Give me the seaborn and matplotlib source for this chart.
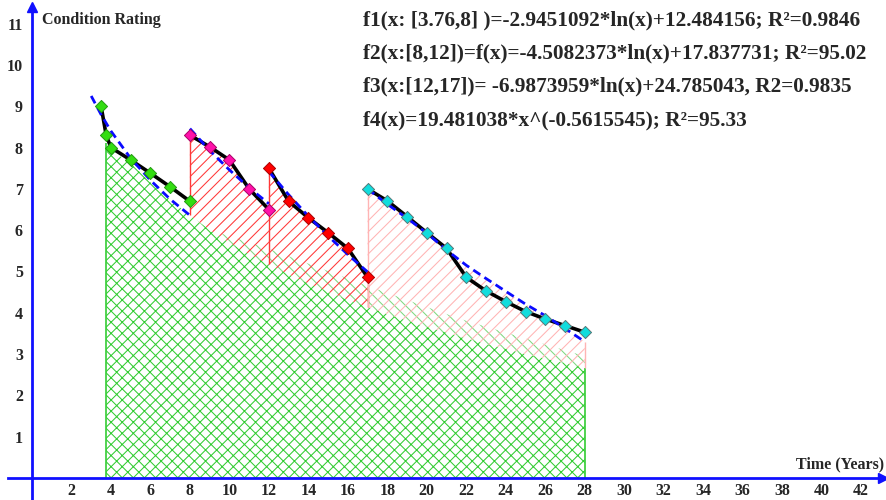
import numpy as np
import matplotlib
matplotlib.use("Agg")
import matplotlib.pyplot as plt
import seaborn as sns

# ---------------- data ----------------
years_s1 = [3.5, 3.76, 4, 5, 6, 7, 8]
rating_s1 = [9.0, 8.3, 8.0, 7.7, 7.38, 7.05, 6.7]
years_s2 = [8, 9, 10, 11, 12]
rating_s2 = [8.3, 8.02, 7.7, 7.0, 6.5]
years_s3 = [12, 13, 14, 15, 16, 17]
rating_s3 = [7.5, 6.7, 6.3, 5.94, 5.56, 4.86]
years_s4 = [17, 18, 19, 20, 21, 22, 23, 24, 25, 26, 27, 28]
rating_s4 = [7.0, 6.71, 6.33, 5.94, 5.56, 4.86, 4.53, 4.27, 4.03, 3.85, 3.69, 3.53]

# fitted (dashed) curves
fit1_x = [3, 3.5, 4, 5, 6, 7, 8]
fit1_y = [9.25, 8.80, 8.40, 7.74, 7.21, 6.75, 6.36]
fit2_x = [8, 9, 10, 11, 12]
fit2_y = [8.46, 7.93, 7.46, 7.03, 6.64]
fit3_x = [12, 13, 14, 15, 16, 17]
fit3_y = [7.42, 6.86, 6.34, 5.86, 5.41, 4.99]
fit4_x = [17, 18, 19, 20, 21, 22, 23, 24, 25, 26, 27, 28]
fit4_y = [7.0, 6.63, 6.29, 5.93, 5.52, 5.15, 4.83, 4.52, 4.21, 3.93, 3.62, 3.30]

# lower boundary (green area top)
base_x = [3.76, 4, 5, 6, 7, 8, 9, 10, 11, 12, 13, 14, 15, 16, 17, 18, 19, 20,
          21, 22, 23, 24, 25, 26, 27, 28]
base_y = [8.1, 7.95, 7.62, 7.16, 6.74, 6.36, 6.01, 5.70, 5.42, 5.17, 4.93, 4.71,
          4.51, 4.32, 4.14, 3.97, 3.81, 3.66, 3.52, 3.38, 3.25, 3.13, 3.00, 2.89,
          2.78, 2.67]
# upper edge of the light green band
band_x = [9, 12, 17, 21.7, 28]
band_y = [6.01, 5.55, 4.65, 3.85, 2.95]

xticks = list(range(2, 43, 2))
yticks = list(range(1, 12))

labels_fit = [
    "f1(x: [3.76,8] )=-2.9451092*ln(x)+12.484156; R²=0.9846",
    "f2(x:[8,12])=f(x)=-4.5082373*ln(x)+17.837731; R²=95.02",
    "f3(x:[12,17])= -6.9873959*ln(x)+24.785043, R2=0.9835",
    "f4(x)=19.481038*x^(-0.5615545); R²=95.33",
]

# ---------------- style ----------------
sns.set_style("white")
plt.rcParams["font.family"] = ["Liberation Serif", "DejaVu Serif"]
plt.rcParams["font.weight"] = "bold"
plt.rcParams["hatch.linewidth"] = 0.75

AX_BLUE = "#1010ff"
GREEN = "#33cc33"
GREEN_L = "#80d880"
RED = "#ff3838"
PINK = "#ffb4b4"

fig = plt.figure(figsize=(8.86, 5.0), dpi=100)
ax = fig.add_axes([0, 0, 1, 1])
ax.set_xlim(-1.62, 43.26)
ax.set_ylim(-0.533, 11.574)

base = dict(zip(base_x, base_y))

# green crosshatched area
ax.fill_between(base_x, 0, base_y, facecolor="none", edgecolor=GREEN,
                hatch="xxx", linewidth=0, zorder=1)
# light green band
bx = band_x + [x for x in base_x if x >= band_x[0]][::-1]
by = band_y + [base[x] for x in base_x if x >= band_x[0]][::-1]
ax.fill(bx, by, facecolor="none", edgecolor=GREEN_L, hatch="\\\\\\",
        linewidth=0, zorder=1)

# red hatched areas between the segments and the base curve
def seg_fill(xs, ys, color):
    lows = [base[x] for x in xs]
    ax.fill_between(xs, lows, ys, facecolor="none", edgecolor=color,
                    hatch="///", linewidth=0, zorder=2)

seg_fill(years_s2, rating_s2, RED)
seg_fill(years_s3, rating_s3, RED)
seg_fill(fit4_x, fit4_y, PINK)

# vertical edges
ax.vlines([base_x[0], base_x[-1]], 0, [base_y[0], base_y[-1]], color=GREEN, lw=1.2, zorder=2)
ax.vlines([years_s2[0], years_s3[0], years_s3[-1]],
          [base[years_s2[0]], base[years_s3[0]], base[years_s3[-1]]],
          [rating_s2[0], rating_s3[0], rating_s3[-1]], color=RED, lw=1.0, zorder=2)
ax.vlines([years_s4[0], years_s4[-1]],
          [base[years_s4[0]], base[years_s4[-1]]],
          [rating_s4[0], fit4_y[-1]], color=PINK, lw=1.0, zorder=2)

# data polylines
for xs, ys in [(years_s1, rating_s1), (years_s2, rating_s2),
               (years_s3, rating_s3), (years_s4, rating_s4)]:
    sns.lineplot(x=xs, y=ys, color="black", lw=2.6, ax=ax, sort=False,
                 estimator=None, zorder=4)

# fitted dashed curves
for xs, ys in [(fit1_x, fit1_y), (fit2_x, fit2_y), (fit3_x, fit3_y), (fit4_x, fit4_y)]:
    ax.plot(xs, ys, color="#0a0aff", lw=2.0, linestyle=(0, (3.0, 1.8)), zorder=5)

# markers
for xs, ys, fc, ec in [(years_s1, rating_s1, "#33dd11", "#229911"),
                       (years_s2, rating_s2, "#ff11aa", "#aa0066"),
                       (years_s3, rating_s3, "#ff0000", "#aa0000"),
                       (years_s4, rating_s4, "#11dddd", "#557777")]:
    sns.scatterplot(x=xs, y=ys, marker="D", s=38, color=fc, edgecolor=ec,
                    linewidth=0.7, ax=ax, zorder=6)

# ---------------- axes ----------------
for side in ["top", "right"]:
    ax.spines[side].set_visible(False)
ax.spines["left"].set_position(("data", 0))
ax.spines["bottom"].set_position(("data", 0))
ax.spines["left"].set_color(AX_BLUE)
ax.spines["bottom"].set_color(AX_BLUE)
ax.spines["left"].set_linewidth(2.0)
ax.spines["bottom"].set_linewidth(2.0)
ax.spines["bottom"].set_bounds(-1.2, 43.2)
ax.spines["left"].set_bounds(-0.6, 11.45)
ax.plot([43.1], [0], marker=">", color=AX_BLUE, ms=7, clip_on=False, zorder=7)
ax.plot([0], [11.4], marker="^", color=AX_BLUE, ms=7, clip_on=False, zorder=7)

ax.set_xticks(xticks)
ax.set_yticks(yticks)
ax.tick_params(axis="both", direction="inout", length=10, width=1.3,
               color=AX_BLUE, labelsize=11.5)
ax.tick_params(axis="x", pad=-1.5)
ax.tick_params(axis="y", pad=1.5)
for lab in ax.get_xticklabels() + ax.get_yticklabels():
    lab.set_fontweight("bold")
ax.grid(False)

ax.text(0.5, 11.1, "Condition Rating", fontsize=11.5, fontweight="bold",
        ha="left", va="center")
ax.text(43.15, 0.33, "Time (Years)", fontsize=11.5, fontweight="bold",
        ha="right", va="center")

for i, t in enumerate(labels_fit):
    fig.text(363 / 886, 1 - [20, 53, 86, 120][i] / 500, t, fontsize=15.3,
             fontweight="bold", ha="left", va="center")

fig.savefig("out.png", dpi=100)
